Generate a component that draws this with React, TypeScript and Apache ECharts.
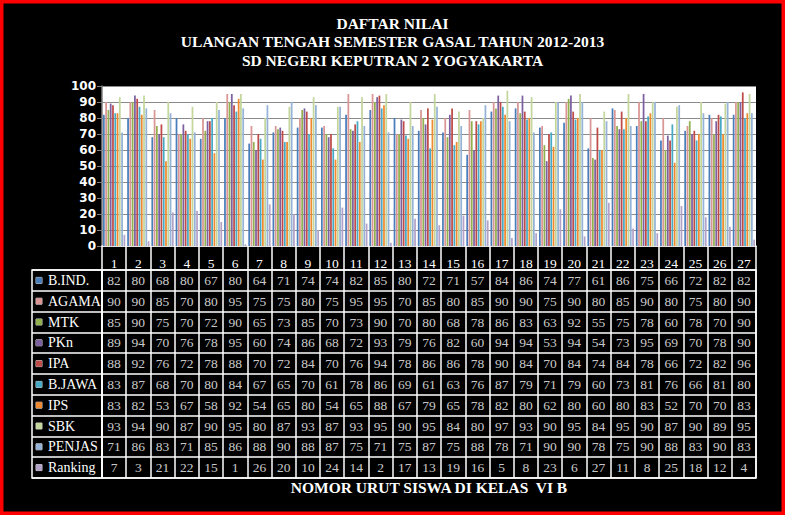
import React, { useEffect, useRef } from "react";
import * as echarts from "echarts";

const categories = ["1","2","3","4","5","6","7","8","9","10","11","12","13","14","15","16","17","18","19","20","21","22","23","24","25","26","27"];
const seriesNames = ["B.IND.", "AGAMA", "MTK", "PKn", "IPA", "B.JAWA", "IPS", "SBK", "PENJAS", "Ranking"];
const bInd = [82,80,68,80,67,80,64,71,74,74,82,85,80,72,71,57,84,86,74,77,61,86,75,66,72,82,82];
const agama = [90,90,85,70,80,95,75,75,80,75,95,95,70,85,80,85,90,90,75,90,80,85,90,80,75,80,90];
const mtk = [85,90,75,70,72,90,65,73,85,70,73,90,70,80,68,78,86,83,63,92,55,75,78,60,78,70,90];
const pkn = [89,94,70,76,78,95,60,74,86,68,72,93,79,76,82,60,94,94,53,94,54,73,95,69,70,78,90];
const ipa = [88,92,76,72,78,88,70,72,84,70,76,94,78,86,86,78,90,84,70,84,74,84,78,66,72,82,96];
const bJawa = [83,87,68,70,80,84,67,65,70,61,78,86,69,61,63,76,87,79,71,79,60,73,81,76,66,81,80];
const ips = [83,82,53,67,58,92,54,65,80,54,65,88,67,79,65,78,82,80,62,80,60,80,83,52,70,70,83];
const sbk = [93,94,90,87,90,95,80,87,93,87,93,95,90,95,84,80,97,93,90,95,84,95,90,87,90,89,95];
const penjas = [71,86,83,71,85,86,88,90,88,87,75,71,75,87,75,88,78,71,90,90,78,75,90,88,83,90,83];
const ranking = [7,3,21,22,15,1,26,20,10,24,14,2,17,13,19,16,5,8,23,6,27,11,8,25,18,12,4];
const yTicks = [0, 10, 20, 30, 40, 50, 60, 70, 80, 90, 100];

const allSeries = [bInd, agama, mtk, pkn, ipa, bJawa, ips, sbk, penjas, ranking];
const colors = ["#4a7ebb", "#d99694", "#93b04f", "#7d60a0", "#be4b48", "#46aac5", "#f08a30", "#c3d69b", "#95b3d7", "#b3a2c7"];

const titleLines = ["DAFTAR NILAI", "ULANGAN TENGAH SEMESTER GASAL TAHUN 2012-2013", "SD NEGERI KEPUTRAN 2 YOGYAKARTA"];
const xTitle = "NOMOR URUT SISWA DI KELAS  VI B";

const SERIF = "'Liberation Serif', 'Times New Roman', serif";

export default function App() {
  const ref = useRef<HTMLDivElement>(null);
  useEffect(() => {
    if (!ref.current) return;
    const chart = echarts.init(ref.current, undefined, { renderer: "svg" });

    const rich: any = {
      t: { color: "#fff", fontSize: 14, fontFamily: SERIF, padding: [0, 0, 0, 6], verticalAlign: "middle", lineHeight: 16 },
    };
    colors.forEach((c, i) => {
      rich["s" + i] = { width: 6, height: 6, backgroundColor: c, borderColor: "#cccccc", borderWidth: 0.5, verticalAlign: "middle" };
    });

    const barSeries = allSeries.map((d, i) => ({
      name: seriesNames[i],
      type: "bar",
      xAxisIndex: 0,
      yAxisIndex: 0,
      data: d,
      barCategoryGap: "8%",
      barGap: "30%",
      itemStyle: { color: colors[i] },
    }));

    const cellData: any[] = [];
    allSeries.forEach((d, r) => {
      d.forEach((v, c) => cellData.push([c, r, v]));
    });

    const option: any = {
      animation: false,
      backgroundColor: "#000",
      title: {
        text: titleLines.join("\n"),
        left: "center",
        top: 9,
        textStyle: { color: "#fff", fontWeight: "bold", fontSize: 15.5, fontFamily: SERIF, lineHeight: 18.5 },
      },
      grid: [
        { left: 102, top: 86, width: 654, height: 160, show: true, backgroundColor: "#fff", borderWidth: 0 },
        { left: 102, top: 270, width: 654, height: 208, show: true, backgroundColor: "transparent", borderColor: "#fff", borderWidth: 1.5 },
        { left: 32, top: 270, width: 70, height: 208, show: true, backgroundColor: "transparent", borderColor: "#fff", borderWidth: 1.5 },
      ],
      xAxis: [
        {
          gridIndex: 0,
          type: "category",
          data: categories,
          axisLine: { show: true, lineStyle: { color: "#fff", width: 1.5 } },
          axisTick: { show: true, interval: 0, length: 24, lineStyle: { color: "#fff", width: 1.5 } },
          axisLabel: { interval: 0, margin: 10, color: "#fff", fontSize: 13.5, fontFamily: SERIF },
          splitLine: { show: false },
        },
        {
          gridIndex: 1,
          type: "category",
          data: categories,
          axisLine: { show: false },
          axisTick: { show: false },
          axisLabel: { show: false, interval: 0 },
          splitLine: { show: true, interval: 0, lineStyle: { color: "#fff", width: 1.5 } },
          name: xTitle,
          nameLocation: "middle",
          nameGap: 1,
          nameTextStyle: { color: "#fff", fontWeight: "bold", fontSize: 15.5, fontFamily: SERIF, verticalAlign: "top" },
        },
        {
          gridIndex: 2,
          type: "category",
          data: [""],
          axisLine: { show: false },
          axisTick: { show: false },
          axisLabel: { show: false },
          splitLine: { show: false },
        },
      ],
      yAxis: [
        {
          gridIndex: 0,
          type: "value",
          min: yTicks[0],
          max: yTicks[yTicks.length - 1],
          interval: 10,
          axisLine: { show: true, lineStyle: { color: "#7f7f7f", width: 1.5 } },
          axisTick: { show: true, length: 5, lineStyle: { color: "#7f7f7f" } },
          axisLabel: { color: "#fff", fontWeight: "bold", fontSize: 12, fontFamily: "'DejaVu Sans', sans-serif", margin: 6 },
          splitLine: { show: true, lineStyle: { color: "#8a8a8a", width: 1.2 } },
        },
        {
          gridIndex: 1,
          type: "category",
          data: seriesNames,
          inverse: true,
          axisLine: { show: false },
          axisTick: { show: false },
          axisLabel: { show: false, interval: 0 },
          splitLine: { show: true, interval: 0, lineStyle: { color: "#fff", width: 1.5 } },
        },
        {
          gridIndex: 2,
          type: "category",
          data: seriesNames,
          inverse: true,
          axisLine: { show: false },
          axisTick: { show: false },
          axisLabel: {
            show: true,
            inside: true,
            interval: 0,
            margin: 4,
            align: "left",
            formatter: (v: string, idx: number) => `{s${idx}|}{t|${v}}`,
            rich,
          },
          splitLine: { show: true, interval: 0, lineStyle: { color: "#fff", width: 1.5 } },
        },
      ],
      series: [
        ...barSeries,
        {
          type: "scatter",
          xAxisIndex: 1,
          yAxisIndex: 1,
          data: cellData,
          symbol: "rect",
          symbolSize: 1,
          itemStyle: { color: "rgba(0,0,0,0)" },
          label: {
            show: true,
            position: "inside",
            formatter: (p: any) => String(p.value[2]),
            color: "#fff",
            fontSize: 13.5,
            fontFamily: SERIF,
          },
          silent: true,
        },
      ],
      graphic: [
        {
          type: "rect",
          shape: { x: 0, y: 0, width: 785, height: 515 },
          style: { fill: "none", stroke: "#ff0000", lineWidth: 7 },
          silent: true,
          z: 100,
        },
      ],
    };
    chart.setOption(option);
    return () => chart.dispose();
  }, []);
  return <div ref={ref} style={{ position: "fixed", left: 0, top: 0, width: 785, height: 515 }} />;
}
